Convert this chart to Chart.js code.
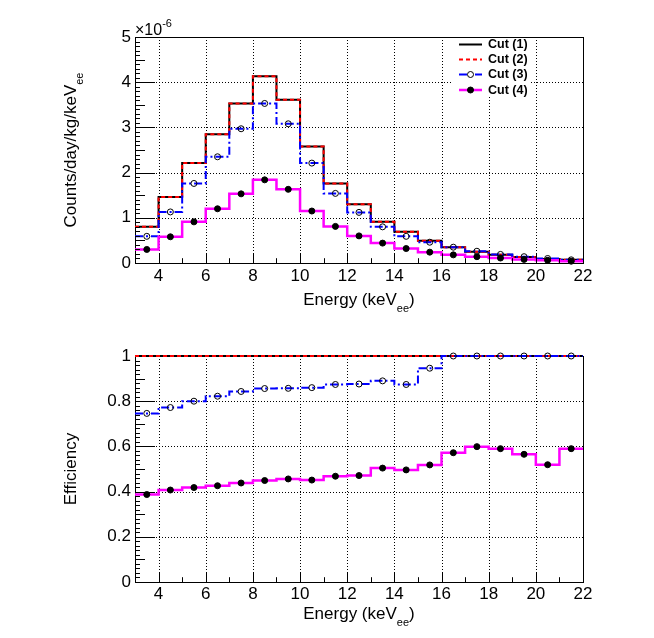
<!DOCTYPE html>
<html>
<head>
<meta charset="utf-8">
<script src="https://cdn.jsdelivr.net/npm/chart.js@4"></script>
<style>
  body { margin: 0; background: #fff; }
  #wrap { position: relative; width: 654px; height: 638px; }
  canvas { position: absolute; left: 0; }
</style>
</head>
<body>
<div id="wrap">
  <canvas id="rate" width="654" height="319" style="top:0"></canvas>
  <canvas id="eff" width="654" height="319" style="top:319px"></canvas>
</div>
<script>
// Bin edges and tick labels (keV_ee)
const binEdges = [3, 4, 5, 6, 7, 8, 9, 10, 11, 12, 13, 14, 15, 16, 17, 18, 19, 20, 21, 22];
const xTicks = [4, 6, 8, 10, 12, 14, 16, 18, 20, 22];
const yTicksRate = [0, 1, 2, 3, 4, 5];
const yTicksEff = [0, 0.2, 0.4, 0.6, 0.8, 1];
const cutLabels = ["Cut (1)", "Cut (2)", "Cut (3)", "Cut (4)"];

// Counts/day/kg/keV_ee, in units of 1e-6
const rateCut1 = [0.80, 1.46, 2.21, 2.85, 3.53, 4.13, 3.61, 2.58, 1.76, 1.30, 0.91, 0.69, 0.49, 0.35, 0.25, 0.18, 0.13, 0.09, 0.07];
const rateCut2 = [0.80, 1.46, 2.21, 2.85, 3.53, 4.13, 3.61, 2.58, 1.76, 1.30, 0.91, 0.69, 0.49, 0.35, 0.25, 0.18, 0.13, 0.09, 0.07];
const rateCut3 = [0.59, 1.13, 1.76, 2.35, 2.97, 3.53, 3.08, 2.21, 1.54, 1.12, 0.80, 0.59, 0.46, 0.35, 0.26, 0.19, 0.14, 0.10, 0.07];
const rateCut4 = [0.30, 0.58, 0.91, 1.20, 1.53, 1.84, 1.63, 1.15, 0.81, 0.60, 0.44, 0.32, 0.24, 0.18, 0.14, 0.11, 0.08, 0.06, 0.04];

// Efficiency
const effCut1 = [1, 1, 1, 1, 1, 1, 1, 1, 1, 1, 1, 1, 1, 1, 1, 1, 1, 1, 1];
const effCut2 = [1, 1, 1, 1, 1, 1, 1, 1, 1, 1, 1, 1, 1, 1, 1, 1, 1, 1, 1];
const effCut3 = [0.746, 0.772, 0.800, 0.822, 0.843, 0.856, 0.857, 0.860, 0.874, 0.876, 0.890, 0.874, 0.946, 1, 1, 1, 1, 1, 1];
const effCut4 = [0.387, 0.407, 0.418, 0.426, 0.438, 0.449, 0.456, 0.451, 0.468, 0.471, 0.504, 0.496, 0.518, 0.572, 0.599, 0.590, 0.565, 0.519, 0.590];

const FONT = "'Liberation Sans', Arial, Helvetica, sans-serif";

// line styles for the four cuts
const styles = [
  { color: "#000000", width: 2, dash: [], marker: null },
  { color: "#ff0000", width: 2, dash: [4, 3], marker: null },
  { color: "#0000ff", width: 2, dash: [8, 3, 2, 3], marker: "open" },
  { color: "#ff00ff", width: 2.5, dash: [], marker: "full" }
];

// histogram outline: left edge of each bin, plus the final right edge
function histPoints(vals) {
  const pts = vals.map((v, i) => ({ x: binEdges[i], y: v }));
  pts.push({ x: binEdges[binEdges.length - 1], y: vals[vals.length - 1] });
  return pts;
}
function centerPoints(vals) {
  return vals.map((v, i) => ({ x: (binEdges[i] + binEdges[i + 1]) / 2, y: v }));
}

function buildDatasets(series) {
  const ds = [];
  series.forEach((vals, i) => {
    const s = styles[i];
    ds.push({
      data: histPoints(vals),
      borderColor: s.color,
      borderWidth: s.width,
      borderDash: s.dash,
      stepped: true,
      pointRadius: 0,
      fill: false,
      clip: false,
      order: 20 - i
    });
    if (s.marker) {
      ds.push({
        data: centerPoints(vals),
        showLine: false,
        pointRadius: 3,
        pointBorderWidth: 1,
        pointBorderColor: "#000",
        pointBackgroundColor: s.marker === "full" ? "#000" : "rgba(0,0,0,0)",
        clip: false,
        order: 5 - i
      });
    }
  });
  return ds;
}

// text with a subscript part, horizontal or rotated
function drawParts(ctx, parts, x, y, rotate) {
  ctx.save();
  ctx.translate(x, y);
  if (rotate) ctx.rotate(-Math.PI / 2);
  let total = 0;
  parts.forEach(p => {
    ctx.font = p.size + "px " + FONT;
    p.w = ctx.measureText(p.t).width;
    total += p.w;
  });
  let cx = -total / 2;
  ctx.fillStyle = "#000";
  ctx.textBaseline = "alphabetic";
  ctx.textAlign = "left";
  parts.forEach(p => {
    ctx.font = p.size + "px " + FONT;
    ctx.fillText(p.t, cx, p.dy || 0);
    cx += p.w;
  });
  ctx.restore();
}

function rootStyle(cfg) {
  return {
    id: "rootStyle",
    beforeDatasetsDraw(chart) {
      const ctx = chart.ctx, a = chart.chartArea;
      const xs = chart.scales.x, ys = chart.scales.y;
      ctx.save();
      ctx.strokeStyle = "#000";
      ctx.lineWidth = 1;
      ctx.setLineDash([1, 2]);
      xTicks.forEach(v => {
        if (v <= xs.min || v >= xs.max) return;
        const px = Math.round(xs.getPixelForValue(v)) + 0.5;
        ctx.beginPath(); ctx.moveTo(px, a.top); ctx.lineTo(px, a.bottom); ctx.stroke();
      });
      cfg.yTicks.forEach(v => {
        if (v <= ys.min || v >= ys.max) return;
        const py = Math.round(ys.getPixelForValue(v)) + 0.5;
        ctx.beginPath(); ctx.moveTo(a.left, py); ctx.lineTo(a.right, py); ctx.stroke();
      });
      if (cfg.legend) {
        ctx.fillStyle = "#fff";
        ctx.fillRect(452, 38, 78, 58);
      }
      // frame, under the histograms
      ctx.setLineDash([]);
      ctx.strokeRect(Math.round(a.left) + 0.5, Math.round(a.top) + 0.5,
        Math.round(a.right - a.left), Math.round(a.bottom - a.top));
      ctx.restore();
    },
    afterDatasetsDraw(chart) {
      const ctx = chart.ctx, a = chart.chartArea;
      const xs = chart.scales.x, ys = chart.scales.y;
      ctx.save();
      ctx.strokeStyle = "#000";
      ctx.lineWidth = 1;
      ctx.setLineDash([]);
      // x ticks
      for (let v = 3; v <= 22; v++) {
        const px = Math.round(xs.getPixelForValue(v)) + 0.5;
        const len = v % 2 === 0 ? 9.6 : 4.8;
        ctx.beginPath(); ctx.moveTo(px, a.bottom); ctx.lineTo(px, a.bottom - len); ctx.stroke();
      }
      // y ticks: primary / secondary / tertiary
      const n = Math.round((ys.max - ys.min) / cfg.yTert);
      for (let k = 0; k < n; k++) {
        const v = ys.min + k * cfg.yTert;
        const py = Math.round(ys.getPixelForValue(v)) + 0.5;
        let len = 5;
        if (k % cfg.perPrim === 0) len = 20;
        else if (k % cfg.perSec === 0) len = 10;
        ctx.beginPath(); ctx.moveTo(a.left, py); ctx.lineTo(a.left + len, py); ctx.stroke();
      }
      ctx.restore();

      const midX = (a.left + a.right) / 2;
      const midY = (a.top + a.bottom) / 2;
      drawParts(ctx, [
        { t: "Energy (keV", size: 17 },
        { t: "ee", size: 11, dy: 7 },
        { t: ")", size: 17 }
      ], midX, a.bottom + cfg.xTitleOffset, false);
      drawParts(ctx, cfg.yTitle, 76, midY, true);

      if (cfg.exponent) {
        ctx.save();
        ctx.fillStyle = "#000";
        ctx.textBaseline = "alphabetic";
        ctx.font = "16px " + FONT;
        ctx.fillText("\u00d710", a.left, a.top - 2);
        const w = ctx.measureText("\u00d710").width;
        ctx.font = "11px " + FONT;
        ctx.fillText("-6", a.left + w, a.top - 10);
        ctx.restore();
      }

      if (cfg.legend) {
        ctx.save();
        const rows = [44.5, 59.5, 74.5, 90];
        cutLabels.forEach((lab, i) => {
          const s = styles[i], y = rows[i];
          ctx.strokeStyle = s.color;
          ctx.lineWidth = s.width;
          ctx.setLineDash(s.dash);
          ctx.beginPath(); ctx.moveTo(459, y); ctx.lineTo(482, y); ctx.stroke();
          ctx.setLineDash([]);
          if (s.marker) {
            ctx.beginPath();
            ctx.arc(470.5, y, 3, 0, Math.PI * 2);
            ctx.lineWidth = 1;
            ctx.strokeStyle = "#000";
            ctx.fillStyle = s.marker === "full" ? "#000" : "#fff";
            ctx.fill();
            ctx.stroke();
          }
          ctx.fillStyle = "#000";
          ctx.font = "bold 12.5px " + FONT;
          ctx.textBaseline = "middle";
          ctx.textAlign = "left";
          ctx.fillText(lab, 488, y + 0.5);
        });
        ctx.restore();
      }
    }
  };
}

function makeChart(id, series, yMax, yTicks, yLabel, plugCfg) {
  return new Chart(document.getElementById(id), {
    type: "line",
    data: { datasets: buildDatasets(series) },
    options: {
      responsive: false,
      animation: false,
      events: [],
      layout: { padding: { top: 37, right: 71, bottom: 0, left: 0 } },
      plugins: { legend: { display: false }, tooltip: { enabled: false }, title: { display: false } },
      scales: {
        x: {
          type: "linear",
          min: 3,
          max: 22,
          afterBuildTicks: s => { s.ticks = xTicks.map(v => ({ value: v })); },
          afterFit: s => { s.height = 56; s.paddingLeft = 0; s.paddingRight = 0; },
          grid: { display: false, drawTicks: false },
          border: { display: false },
          ticks: { padding: plugCfg.xTickPad, color: "#000", font: { family: FONT, size: 17 }, maxRotation: 0, autoSkip: false }
        },
        y: {
          type: "linear",
          min: 0,
          max: yMax,
          afterBuildTicks: s => { s.ticks = yTicks.map(v => ({ value: v })); },
          afterFit: s => { s.width = 135; s.paddingTop = 0; s.paddingBottom = 0; },
          grid: { display: false, drawTicks: false },
          border: { display: false },
          ticks: { padding: 4, color: "#000", font: { family: FONT, size: 17 }, callback: v => String(v) }
        }
      }
    },
    plugins: [rootStyle(Object.assign({ yTicks: yTicks, yTitle: yLabel }, plugCfg))]
  });
}

makeChart("rate", [rateCut1, rateCut2, rateCut3, rateCut4], 5, yTicksRate,
  [{ t: "Counts/day/kg/keV", size: 17 }, { t: "ee", size: 11, dy: 7 }],
  { yTert: 0.1, perSec: 5, perPrim: 10, exponent: true, legend: true, xTickPad: 3, xTitleOffset: 42 });

makeChart("eff", [effCut1, effCut2, effCut3, effCut4], 1, yTicksEff,
  [{ t: "Efficiency", size: 17 }],
  { yTert: 0.02, perSec: 5, perPrim: 10, exponent: false, legend: false, xTickPad: 2, xTitleOffset: 37 });
</script>
</body>
</html>
